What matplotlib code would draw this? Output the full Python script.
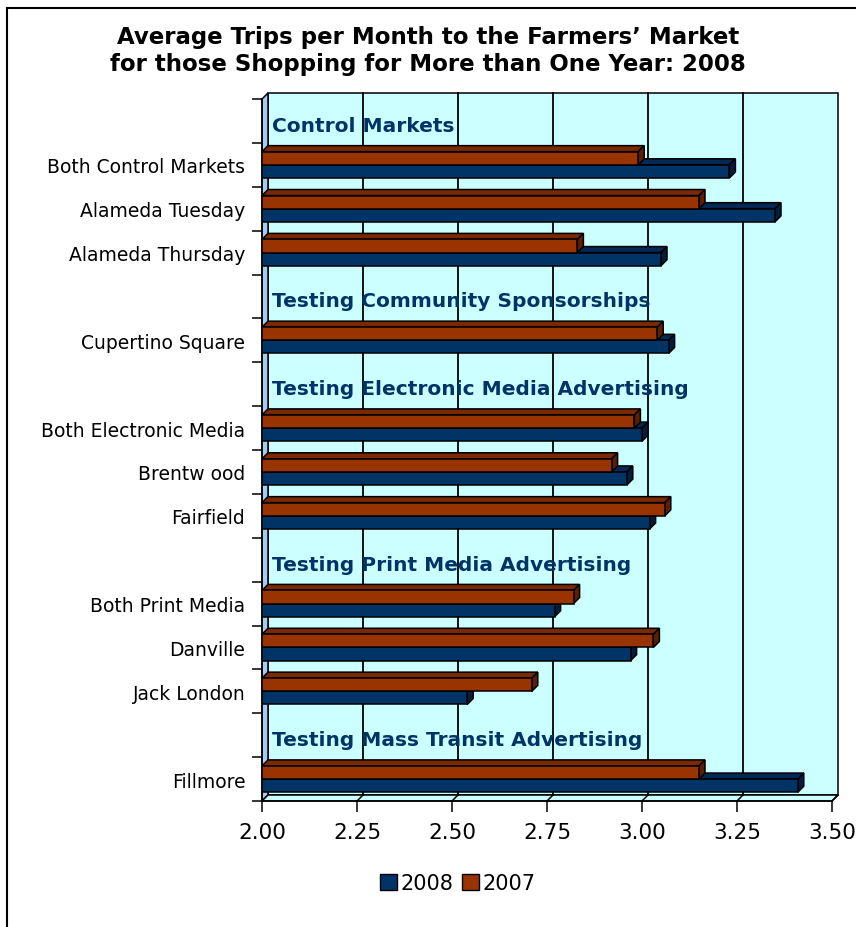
import numpy as np
import matplotlib.pyplot as plt
from matplotlib.patches import Polygon, Rectangle, Patch

plt.rcParams['font.family'] = ['DejaVu Sans']

# ---- data ----
categories = ["", "Both Control Markets", "Alameda Tuesday", "Alameda Thursday",
              "", "Cupertino Square",
              "", "Both Electronic Media", "Brentw ood", "Fairfield",
              "", "Both Print Media", "Danville", "Jack London",
              "", "Fillmore"]
market_rows = [1, 2, 3, 5, 7, 8, 9, 11, 12, 13, 15]
trips_2008 = [3.23, 3.35, 3.05, 3.07, 3.00, 2.96, 3.02, 2.77, 2.97, 2.54, 3.41]
trips_2007 = [2.99, 3.15, 2.83, 3.04, 2.98, 2.92, 3.06, 2.82, 3.03, 2.71, 3.15]
group_rows = [0, 4, 6, 10, 14]
group_names = ["Control Markets", "Testing Community Sponsorships",
               "Testing Electronic Media Advertising",
               "Testing Print Media Advertising",
               "Testing Mass Transit Advertising"]
x_ticks = [2.00, 2.25, 2.50, 2.75, 3.00, 3.25, 3.50]

navy = "#003366"
navy_top = "#002a55"
navy_side = "#001f40"
rust = "#993300"
rust_top = "#7a2900"
rust_side = "#5e1f00"
wall = "#ccffff"
side_wall = "#a6caf0"

W, H = 856, 928
fig = plt.figure(figsize=(W / 100, H / 100), dpi=100)
# front plane of the plot: x 262..832 px, y 100..802 px
ax = fig.add_axes([262 / W, (H - 802) / H, 570 / W, 702 / H])
ax.set_xlim(2.0, 3.5)
ax.set_ylim(15.5, -0.5)

# depth offset of the 3d look (about 6 px right and up)
dx = 1.5 / 570 * 6
dy = 16 / 702 * 6
x0 = 2.0
edge = dict(edgecolor="black", linewidth=1.1)

# back wall, side wall, floor
ax.add_patch(Rectangle((x0 + dx, -0.5 - dy), 1.5, 16, facecolor=wall,
                       clip_on=False, zorder=1, **edge))
ax.add_patch(Polygon([(x0, -0.5), (x0 + dx, -0.5 - dy), (x0 + dx, 15.5 - dy), (x0, 15.5)],
                     facecolor=side_wall, clip_on=False, zorder=1.2, **edge))
ax.add_patch(Polygon([(x0, 15.5), (3.5, 15.5), (3.5 + dx, 15.5 - dy), (x0 + dx, 15.5 - dy)],
                     facecolor=wall, clip_on=False, zorder=1.2, **edge))
for t in x_ticks[1:-1]:
    ax.plot([t + dx, t + dx], [-0.5 - dy, 15.5 - dy], color="black", lw=1.3,
            zorder=1.5, clip_on=False)
for t in x_ticks[1:]:
    ax.plot([t, t + dx], [15.5, 15.5 - dy], color="black", lw=1.1,
            zorder=1.5, clip_on=False)

# bars: 2008 below, 2007 above within each category
bh = 0.3
y08 = np.array(market_rows) + bh / 2
y07 = np.array(market_rows) - bh / 2


def faces(y, vals, top_c, side_c, z):
    for yc, v in zip(y, vals):
        yt, yb = yc - bh / 2, yc + bh / 2
        ax.add_patch(Polygon([(x0, yt), (v, yt), (v + dx, yt - dy), (x0 + dx, yt - dy)],
                             facecolor=top_c, zorder=z, clip_on=False, **edge))
        ax.add_patch(Polygon([(v, yt), (v + dx, yt - dy), (v + dx, yb - dy), (v, yb)],
                             facecolor=side_c, zorder=z, clip_on=False, **edge))


faces(y08, trips_2008, navy_top, navy_side, 3)
ax.barh(y08, np.array(trips_2008) - x0, left=x0, height=bh, color=navy,
        zorder=3, label="2008", **edge)
faces(y07, trips_2007, rust_top, rust_side, 4)
ax.barh(y07, np.array(trips_2007) - x0, left=x0, height=bh, color=rust,
        zorder=4, label="2007", **edge)

# group headings on the back wall
for r, name in zip(group_rows, group_names):
    ax.text(x0 + dx + 0.01, r + 0.1, name, color=navy, fontsize=14.5,
            fontweight="bold", ha="left", va="center", zorder=5)

# axes
for s in ["top", "right"]:
    ax.spines[s].set_visible(False)
ax.spines["bottom"].set_linewidth(1.1)
ax.spines["left"].set_linewidth(1.1)
ax.set_xticks(x_ticks)
ax.set_xticklabels([f"{t:.2f}" for t in x_ticks], fontsize=15.5)
ax.tick_params(axis="x", length=8, width=1.1, pad=7)
ax.set_yticks(np.arange(-0.5, 16, 1.0))
ax.set_yticklabels([])
ax.tick_params(axis="y", which="major", length=7, width=1.1)
ax.set_yticks(np.arange(16), minor=True)
ax.set_yticklabels(categories, minor=True, fontsize=13.5)
ax.tick_params(axis="y", which="minor", length=0, pad=12)

fig.text(428 / W, 1 - 51 / H,
         "Average Trips per Month to the Farmers\u2019 Market\nfor those Shopping for More than One Year: 2008",
         ha="center", va="center", fontsize=16.5, fontweight="bold", linespacing=1.2)

handles = [Patch(facecolor=navy, edgecolor="black", label="2008"),
           Patch(facecolor=rust, edgecolor="black", label="2007")]
fig.legend(handles=handles, loc="center", bbox_to_anchor=(458 / W, 1 - 884 / H),
           ncol=2, frameon=False, fontsize=15, handlelength=0.8, handleheight=0.8,
           handletextpad=0.2, columnspacing=0.4)

# outer chart border (runs off the right and bottom of the picture)
fig.patches.append(Rectangle((7 / W, -0.1), 1.2, 1.1 - 9 / H, transform=fig.transFigure,
                             fill=False, edgecolor="black", linewidth=1.5))

fig.savefig("out.png", dpi=100)
